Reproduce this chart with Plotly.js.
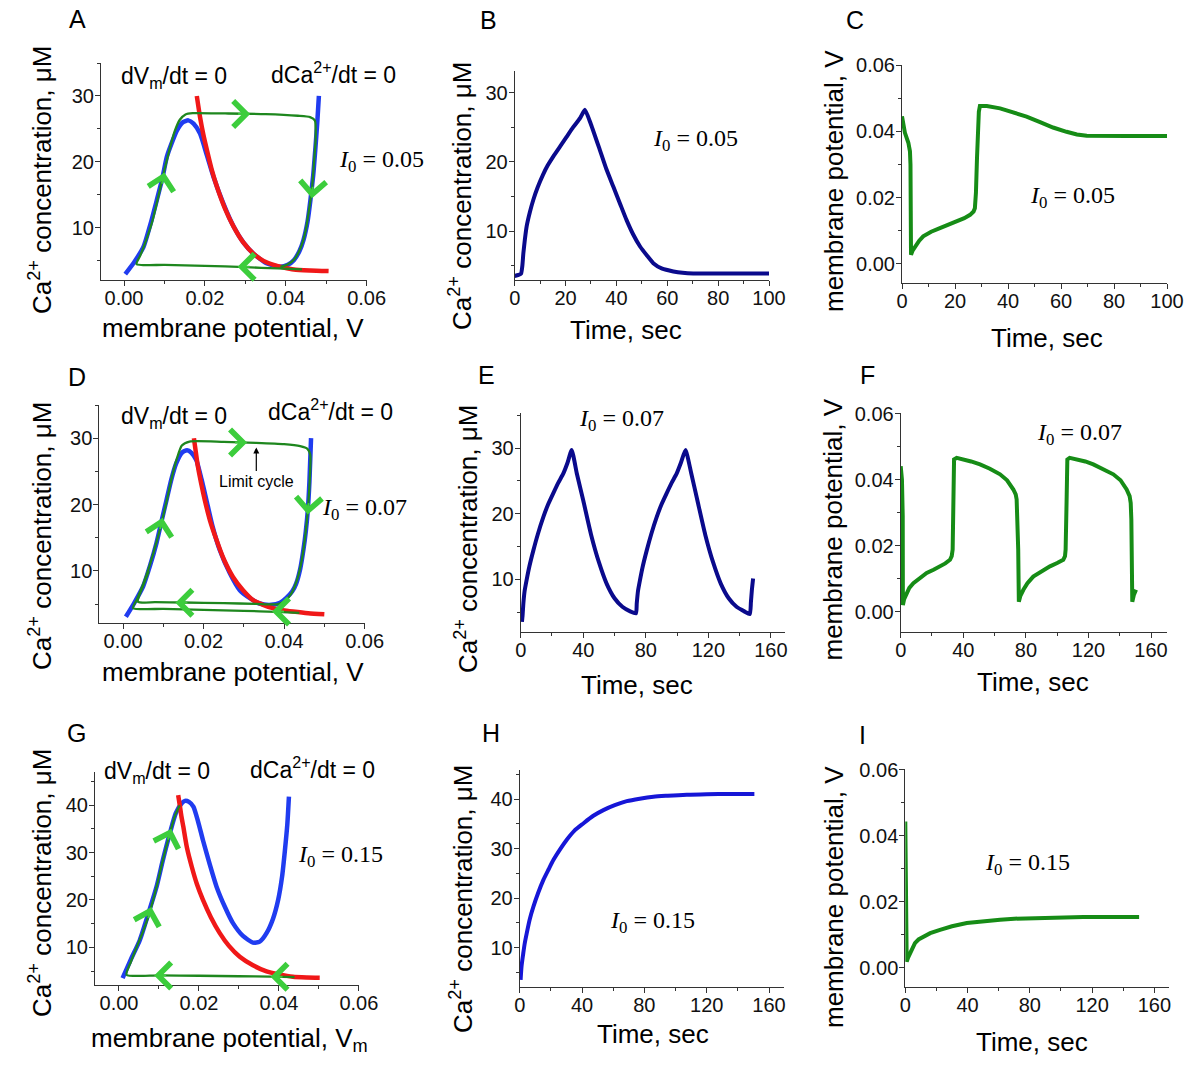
<!DOCTYPE html>
<html>
<head>
<meta charset="utf-8">
<script src="https://cdn.plot.ly/plotly-3.0.1.min.js"></script>
<style>html,body{margin:0;padding:0;background:#fff;}</style>
</head>
<body>
<div id="chart" style="width:1200px;height:1066px;"></div>
<script>
// ---------------- DATA ----------------
// Panel A (I0 = 0.05): nullclines and trajectory in (V, Ca) plane
const aBlueV  = [0.0003,0.0025,0.0048,0.0065,0.0081,0.0095,0.0106,0.0120,0.0131,0.0145,0.0159,0.0172,0.0188,0.0205,0.0221,0.0245,0.0271,0.0295,0.0320,0.0354,0.0387,0.0405,0.0420,0.0434,0.0444,0.0454,0.0461,0.0468,0.0473,0.0478,0.0482];
const aBlueCa = [3.0,4.8,7.1,10.5,14.2,17.6,20.8,23.2,24.8,26.0,26.3,25.8,24.3,21.0,17.8,13.8,10.2,7.8,6.1,4.6,4.1,4.4,5.1,6.5,8.2,11.0,14.2,18.0,21.8,26.0,30.0];
const aRedV   = [0.0180,0.0188,0.0196,0.0205,0.0217,0.0230,0.0250,0.0271,0.0295,0.0320,0.0345,0.0370,0.0395,0.0420,0.0460,0.0506];
const aRedCa  = [30.0,26.8,24.2,21.8,18.8,16.2,12.9,10.2,7.8,6.1,5.0,4.4,4.0,3.7,3.55,3.45];
const aTrajV  = [0.0440,0.0380,0.0300,0.0200,0.0100,0.0031,0.0040,0.0055,0.0070,0.0085,0.0100,0.0113,0.0125,0.0138,0.0152,0.0170,0.0250,0.0350,0.0430,0.0460,0.0472,0.0474,0.0470,0.0465,0.0457,0.0449,0.0437,0.0422,0.0403,0.0387];
const aTrajCa = [3.70,3.85,4.05,4.25,4.40,4.50,5.8,8.2,11.0,14.8,18.8,22.0,24.6,26.4,27.2,27.4,27.35,27.25,27.0,26.8,26.3,23.5,20.0,16.0,12.5,9.5,7.0,5.3,4.4,4.1];
const aArrowV   = [0.0100,0.0312,0.0465,0.0281];
const aArrowCa  = [18.4,27.25,14.5,4.1];
const aArrowDir = [78,0,-94,180];

// Panel B: Ca vs time
const bTime = [0,1.5,2.5,3.0,3.4,4.0,4.7,6.0,7.3,9.0,11.2,13.0,15.2,18.0,20.4,23.0,25.7,27.6,30.0,33.5,36.0,38.8,41.5,44.0,46.5,49.3,52.0,54.5,58.0,62.4,66.0,70.2,80,90,100];
const bCa   = [3.55,3.7,3.9,5.0,6.8,8.8,10.7,12.8,14.5,16.3,18.2,19.5,20.8,22.3,23.6,25.0,26.3,27.5,25.4,21.7,19.0,16.4,13.9,11.6,9.6,7.8,6.5,5.4,4.6,4.2,4.0,3.9,3.9,3.9,3.9];

// Panel C: V vs time
const cTime = [0,1.1,2.4,3.0,3.2,3.3,3.4,4.0,4.9,6.5,8.0,11,14.3,17.5,20.6,23.5,25.7,27.0,27.5,27.9,28.3,28.6,29.0,29.4,32.0,37,42.0,47,52.1,57,62.1,66,69.7,75.1,85,100];
const cV    = [0.0446,0.0396,0.0366,0.0340,0.0300,0.0194,0.0027,0.0040,0.0052,0.0070,0.0083,0.0097,0.0108,0.0118,0.0128,0.0138,0.0148,0.0158,0.0168,0.0214,0.0320,0.0396,0.0460,0.0477,0.0477,0.0470,0.0459,0.0445,0.0428,0.0412,0.0399,0.0391,0.0387,0.0386,0.0386,0.0386];

// Panel D (I0 = 0.07)
const dBlueV  = [0.0007,0.0028,0.0050,0.0067,0.0083,0.0096,0.0108,0.0120,0.0132,0.0146,0.0159,0.0170,0.0182,0.0195,0.0207,0.0222,0.0240,0.0265,0.0290,0.0315,0.0339,0.0368,0.0390,0.0405,0.0420,0.0430,0.0440,0.0448,0.0454,0.0459,0.0463,0.0467];
const dBlueCa = [3.1,5.2,7.7,10.8,14.2,17.6,20.7,23.8,26.2,27.8,28.2,27.8,26.7,23.8,20.7,16.8,13.2,9.7,7.1,5.9,5.1,4.9,5.2,5.9,6.9,8.1,10.3,13.2,16.0,19.2,23.5,30.0];
const dRedV   = [0.0176,0.0181,0.0186,0.0194,0.0203,0.0216,0.0232,0.0250,0.0273,0.0298,0.0323,0.0348,0.0372,0.0397,0.0422,0.0460,0.0500];
const dRedCa  = [30.0,27.8,25.7,23.2,20.7,17.6,14.7,11.8,9.1,7.1,5.6,4.9,4.4,4.1,3.9,3.65,3.5];
const dTrajV  = [0.0438,0.0380,0.0300,0.0200,0.0100,0.0025,0.0035,0.0050,0.0067,0.0083,0.0097,0.0110,0.0122,0.0134,0.0146,0.0165,0.0250,0.0330,0.0400,0.0440,0.0458,0.0465,0.0464,0.0459,0.0453,0.0445,0.0433,0.0418,0.0400,0.0385,0.0330,0.0250,0.0150,0.0080,0.0037,0.0050,0.0064];
const dTrajCa = [3.70,3.85,4.00,4.15,4.30,4.40,5.8,8.0,11.0,14.3,17.6,21.0,24.3,27.0,28.9,29.5,29.45,29.3,29.1,28.8,28.4,27.5,24.0,19.2,15.5,12.0,8.8,6.6,5.4,5.0,5.05,5.15,5.25,5.30,5.37,7.8,10.0];
const dArrowV   = [0.0098,0.0308,0.0459,0.0130,0.0370];
const dArrowCa  = [18.0,29.35,18.5,5.22,3.88];
const dArrowDir = [78,0,-94,180,180];

// Panel E: Ca vs time
const eTime = [0.8,1.2,1.7,2.5,3.8,5.5,8.1,11,14.5,17.5,20.8,24,27.2,30,32.6,36,40,45,50,55,60,65,70,73.7,74.2,75.0,76.3,78,80.6,83.5,87,90,93.3,96.5,99.7,102.5,105.4,109,113,118,123,128,133,138,143,146.5,147.2,147.8,148.6];
const eCa   = [3.5,4.5,6.3,8.2,9.9,11.9,14.4,16.9,19.5,21.4,23.1,24.7,26.1,27.8,29.7,26.0,22.0,16.8,12.6,9.3,7.1,5.8,5.1,4.8,6.3,8.2,9.9,11.9,14.4,16.9,19.5,21.4,23.1,24.7,26.1,27.8,29.7,26.2,22.0,16.8,12.6,9.3,7.1,5.8,5.1,4.7,6.5,8.3,10.1];

// Panel F: V vs time
const fTime = [0,0.8,1.3,1.4,2.2,3.8,5.5,8.1,12,16.6,21,25.1,28.5,31.5,32.6,33.2,33.7,34.1,35.8,40,45,50.7,57,63.5,68,72.0,73.5,74.1,74.6,75.1,75.5,76.5,78.4,81,84.7,90,95.4,100,103.9,105,105.4,106,106.5,108,113,118,123.1,129,135.9,140.5,144.4,146.3,147,147.4,147.6,148.0,149,150.4];
const fV    = [0.0441,0.0400,0.0289,0.0020,0.0038,0.0056,0.0072,0.0086,0.0102,0.0117,0.0127,0.0137,0.0146,0.0157,0.0168,0.0188,0.0330,0.0461,0.0466,0.0462,0.0455,0.0446,0.0433,0.0416,0.0398,0.0370,0.0355,0.0340,0.0290,0.0188,0.0030,0.0048,0.0066,0.0086,0.0106,0.0123,0.0137,0.0147,0.0157,0.0168,0.0188,0.0330,0.0461,0.0466,0.0462,0.0455,0.0446,0.0433,0.0416,0.0398,0.0370,0.0350,0.0329,0.0280,0.0188,0.0030,0.0050,0.0066];

// Panel G (I0 = 0.15)
const gBlueV  = [0.0009,0.0030,0.0052,0.0073,0.0094,0.0110,0.0127,0.0142,0.0157,0.0165,0.0175,0.0186,0.0198,0.0210,0.0227,0.0244,0.0265,0.0285,0.0310,0.0335,0.0352,0.0369,0.0385,0.0398,0.0408,0.0415,0.0421,0.0425];
const gBlueCa = [3.5,7.5,11.5,17.0,22.8,28.5,34.0,38.3,40.4,40.9,40.7,39.7,36.5,32.6,27.5,22.8,18.5,15.1,12.4,11.0,11.2,13.0,16.0,20.0,25.0,30.5,36.0,41.8];
const gRedV   = [0.0148,0.0152,0.0156,0.0161,0.0170,0.0182,0.0195,0.0210,0.0230,0.0252,0.0275,0.0302,0.0335,0.0369,0.0400,0.0435,0.0470,0.0502];
const gRedCa  = [42.1,40.0,37.7,35.4,31.0,27.0,23.3,20.0,16.3,13.0,10.3,8.0,6.2,4.9,4.3,3.8,3.65,3.6];
const gTrajV  = [0.0439,0.0380,0.0300,0.0200,0.0100,0.0019,0.0030,0.0045,0.0060,0.0077,0.0094,0.0110,0.0127,0.0140,0.0152];
const gTrajCa = [3.7,3.8,3.9,4.0,4.1,4.2,7.0,10.2,13.3,17.5,22.8,28.5,34.0,37.8,40.0];
const gArrowV   = [0.0081,0.0131,0.0088,0.0379];
const gArrowCa  = [18.5,35.0,4.08,3.8];
const gArrowDir = [74,72,180,180];

// Panel H: Ca vs time
const hTime = [0.6,1.2,2.3,3.3,4.5,6.5,8.8,12,15.2,18.5,21.6,26,30.2,35,40.8,47,53.7,61,68.7,77,85.8,95,107.2,120,135,150.6];
const hCa   = [3.5,6.3,8.9,11.0,12.9,15.8,18.3,21.2,23.7,25.8,27.7,29.9,31.8,33.6,35.1,36.6,37.8,38.8,39.6,40.1,40.5,40.7,40.9,41.0,41.05,41.05];

// Panel I: V vs time
const iTime = [0,0.3,0.5,0.7,0.9,1.8,3.0,4.5,6.2,8.5,11.6,16,22.3,30,39.5,50,60.9,70,82.3,97,114.4,130,150.2];
const iV    = [0.0443,0.0330,0.0205,0.0080,0.0018,0.0030,0.0044,0.0060,0.0074,0.0085,0.0094,0.0104,0.0114,0.0125,0.0135,0.0141,0.0145,0.0148,0.0150,0.0152,0.0153,0.0153,0.0153];

// Text
const panelLetters = ['A','B','C','D','E','F','G','H','I'];
const currentLabels = ['0.05','0.05','0.05','0.07','0.07','0.07','0.15','0.15','0.15'];
const caTitle = 'Ca<sup>2+</sup> concentration, \u03bcM';
const vTitle = 'membrane potential, V';
const vmTitle = 'membrane potential, V<sub>m</sub>';
const tTitle = 'Time, sec';
const dvLabel = 'dV<sub>m</sub>/dt = 0';
const dcaLabel = 'dCa<sup>2+</sup>/dt = 0';

// ---------------- STYLE / LAYOUT ----------------
const W = 1200, H = 1066;
const FONT = 'Liberation Sans, Arial, Helvetica, sans-serif';
const SERIF = 'Liberation Serif, Times New Roman, serif';
const AXC = '#333';
const BLUE = 'rgb(32,60,240)';
const RED = 'rgb(240,24,24)';
const TRAJ = 'rgb(30,135,30)';
const ARROW = 'rgb(60,205,60)';
const NAVY = 'rgb(10,10,140)';
const HBLUE = 'rgb(22,22,215)';
const GREEN = 'rgb(22,140,22)';

function dx(a, b) { return [a / W, b / W]; }
function dy(t, b) { return [1 - b / H, 1 - t / H]; }

function axis(dom, range, dtick, mdtick, fmt, anchor, isY) {
  return {
    domain: dom, range: range, autorange: false, anchor: anchor,
    tick0: 0, dtick: dtick, tickformat: fmt,
    ticks: 'outside', ticklen: 5, tickwidth: 1, tickcolor: AXC,
    ticklabelstandoff: isY ? -3 : -5,
    minor: {ticks: 'outside', ticklen: 3, tickwidth: 1, tickcolor: AXC, dtick: mdtick, tick0: 0, showgrid: false},
    showline: true, linecolor: AXC, linewidth: 1,
    showgrid: false, zeroline: false, fixedrange: true,
    tickfont: {family: FONT, size: 20, color: '#111'}
  };
}

const traces = [];
function line(x, y, xa, ya, color, width, shape, sm) {
  traces.push({x: x, y: y, xaxis: xa, yaxis: ya, type: 'scatter', mode: 'lines',
    line: {color: color, width: width, shape: shape || 'linear', smoothing: sm || 0.6},
    hoverinfo: 'skip', showlegend: false});
}

// A
line(aBlueV, aBlueCa, 'x', 'y', BLUE, 4.5, 'spline');
line(aRedV, aRedCa, 'x', 'y', RED, 4.5, 'spline');
line(aTrajV, aTrajCa, 'x', 'y', TRAJ, 2.3, 'spline');
// B
line(bTime, bCa, 'x2', 'y2', NAVY, 4, 'spline', 0.5);
// C
line(cTime, cV, 'x3', 'y3', GREEN, 4);
// D
line(dBlueV, dBlueCa, 'x4', 'y4', BLUE, 4.5, 'spline');
line(dRedV, dRedCa, 'x4', 'y4', RED, 4.5, 'spline');
line(dTrajV, dTrajCa, 'x4', 'y4', TRAJ, 2.3, 'spline');
// E
line(eTime, eCa, 'x5', 'y5', NAVY, 4, 'spline', 0.5);
// F
line(fTime, fV, 'x6', 'y6', GREEN, 4);
// G
line(gBlueV, gBlueCa, 'x7', 'y7', BLUE, 4.5, 'spline');
line(gRedV, gRedCa, 'x7', 'y7', RED, 4.5, 'spline');
line(gTrajV, gTrajCa, 'x7', 'y7', TRAJ, 2.3, 'spline');
// H
line(hTime, hCa, 'x8', 'y8', HBLUE, 4, 'spline', 0.7);
// I
line(iTime, iV, 'x9', 'y9', GREEN, 4);

const anns = [];
function txt(text, x, y, size, family, extra) {
  anns.push(Object.assign({text: text, x: x / W, y: 1 - y / H, xref: 'paper', yref: 'paper',
    showarrow: false, xanchor: 'center', yanchor: 'middle',
    font: {family: family, size: size, color: '#000'}}, extra || {}));
}
function arrows(vs, cs, dirs, xa, ya) {
  const L = 14;
  vs.forEach(function (v, i) {
    const a = dirs[i] * Math.PI / 180;
    anns.push({x: v, y: cs[i], xref: xa, yref: ya, text: ' ', showarrow: true,
      arrowhead: 4, arrowsize: 2.5, arrowwidth: 2, arrowcolor: ARROW,
      ax: -Math.cos(a) * L, ay: Math.sin(a) * L, font: {size: 2, color: 'rgba(0,0,0,0)'},
      borderpad: 1, standoff: 0});
  });
}

// panel letters
const letterPos = [[77,19],[489,19.5],[855,20],[76.5,377],[486,375],[867,375],[76,733],[490.5,733],[862,735]];
panelLetters.forEach(function (l, i) { txt(l, letterPos[i][0], letterPos[i][1], 25, FONT); });

// nullcline labels
[[174,78],[174,417],[157,772]].forEach(function (p) { txt(dvLabel, p[0], p[1], 23, FONT); });
[[333,73],[330,410],[313,768]].forEach(function (p) { txt(dcaLabel, p[0], p[1], 23, FONT); });

// I0 labels
const iPos = [[381,161],[695,140],[1072,197],[364,509],[621,420],[1079,434],[340,856],[652,922],[1027,864]];
currentLabels.forEach(function (v, i) {
  txt('<i>I</i><sub>0</sub> = ' + v, iPos[i][0], iPos[i][1], 24, SERIF);
});

// axis titles (y)
[[40,180],[461,196],[40,536],[466,539],[40,883],[461,899]].forEach(function (p) {
  txt(caTitle, p[0], p[1], 26, FONT, {textangle: -90});
});
[[834,181],[832,529.5],[834,897]].forEach(function (p) {
  txt(vTitle, p[0], p[1], 26, FONT, {textangle: -90});
});
// axis titles (x)
txt(vTitle, 233, 328, 26, FONT);
txt(vTitle, 233, 672, 26, FONT);
txt(vmTitle, 229, 1039, 26, FONT);
[[626,330],[1047,338],[637,685],[1033,682],[653,1034],[1032,1042]].forEach(function (p) {
  txt(tTitle, p[0], p[1], 26, FONT);
});

// limit cycle label
anns.push({text: 'Limit cycle', x: 0.0331, y: 28.6, xref: 'x4', yref: 'y4',
  ax: 0.0331, ay: 23.55, axref: 'x4', ayref: 'y4', showarrow: true,
  arrowhead: 2, arrowsize: 1, arrowwidth: 1.2, arrowcolor: '#000',
  font: {family: FONT, size: 16, color: '#000'}});

// trajectory arrows
arrows(aArrowV, aArrowCa, aArrowDir, 'x', 'y');
arrows(dArrowV, dArrowCa, dArrowDir, 'x4', 'y4');
arrows(gArrowV, gArrowCa, gArrowDir, 'x7', 'y7');

const layout = {
  width: W, height: H,
  margin: {l: 0, r: 0, t: 0, b: 0},
  paper_bgcolor: '#fff', plot_bgcolor: '#fff',
  showlegend: false,
  font: {family: FONT, color: '#000'},
  xaxis:  axis(dx(101,367),    [-0.0057,0.0601], 0.02, 0.01, '.2f', 'y'),
  yaxis:  axis(dy(63,280),     [2.1,35],         10,   5,    'd',   'x', true),
  xaxis2: axis(dx(514.7,769),  [0,100],          20,   10,   'd',   'y2'),
  yaxis2: axis(dy(71,280),     [2.97,33.1],      10,   5,    'd',   'x2', true),
  xaxis3: axis(dx(902,1167),   [0,100],          20,   10,   'd',   'y3'),
  yaxis3: axis(dy(65,283.3),   [-0.0059,0.0601], 0.02, 0.01, '.2f', 'x3', true),
  xaxis4: axis(dx(99.3,365),   [-0.0059,0.0601], 0.02, 0.01, '.2f', 'y4'),
  yaxis4: axis(dy(405,623.3),  [2.12,35],        10,   5,    'd',   'x4', true),
  xaxis5: axis(dx(520.7,785),  [0,169],          40,   20,   'd',   'y5'),
  yaxis5: axis(dy(413.3,631.7),[2.0,35.3],       10,   5,    'd',   'x5', true),
  xaxis6: axis(dx(900.7,1166.7),[0,170],         40,   20,   'd',   'y6'),
  yaxis6: axis(dy(413.3,631.7),[-0.0061,0.0601], 0.02, 0.01, '.2f', 'x6', true),
  xaxis7: axis(dx(95,359.3),   [-0.006,0.0601],  0.02, 0.01, '.2f', 'y7'),
  yaxis7: axis(dy(772,985),    [2.05,47],        10,   5,    'd',   'x7', true),
  xaxis8: axis(dx(519.7,784.3),[0,169.8],        40,   20,   'd',   'y8'),
  yaxis8: axis(dy(770,987.3),  [2.0,45.9],       10,   5,    'd',   'x8', true),
  xaxis9: axis(dx(905.3,1169), [0,169.4],        40,   20,   'd',   'y9'),
  yaxis9: axis(dy(769.3,987.3),[-0.006,0.0601],  0.02, 0.01, '.2f', 'x9', true),
  annotations: anns
};

Plotly.newPlot('chart', traces, layout, {displayModeBar: false, staticPlot: true});
</script>
</body>
</html>
